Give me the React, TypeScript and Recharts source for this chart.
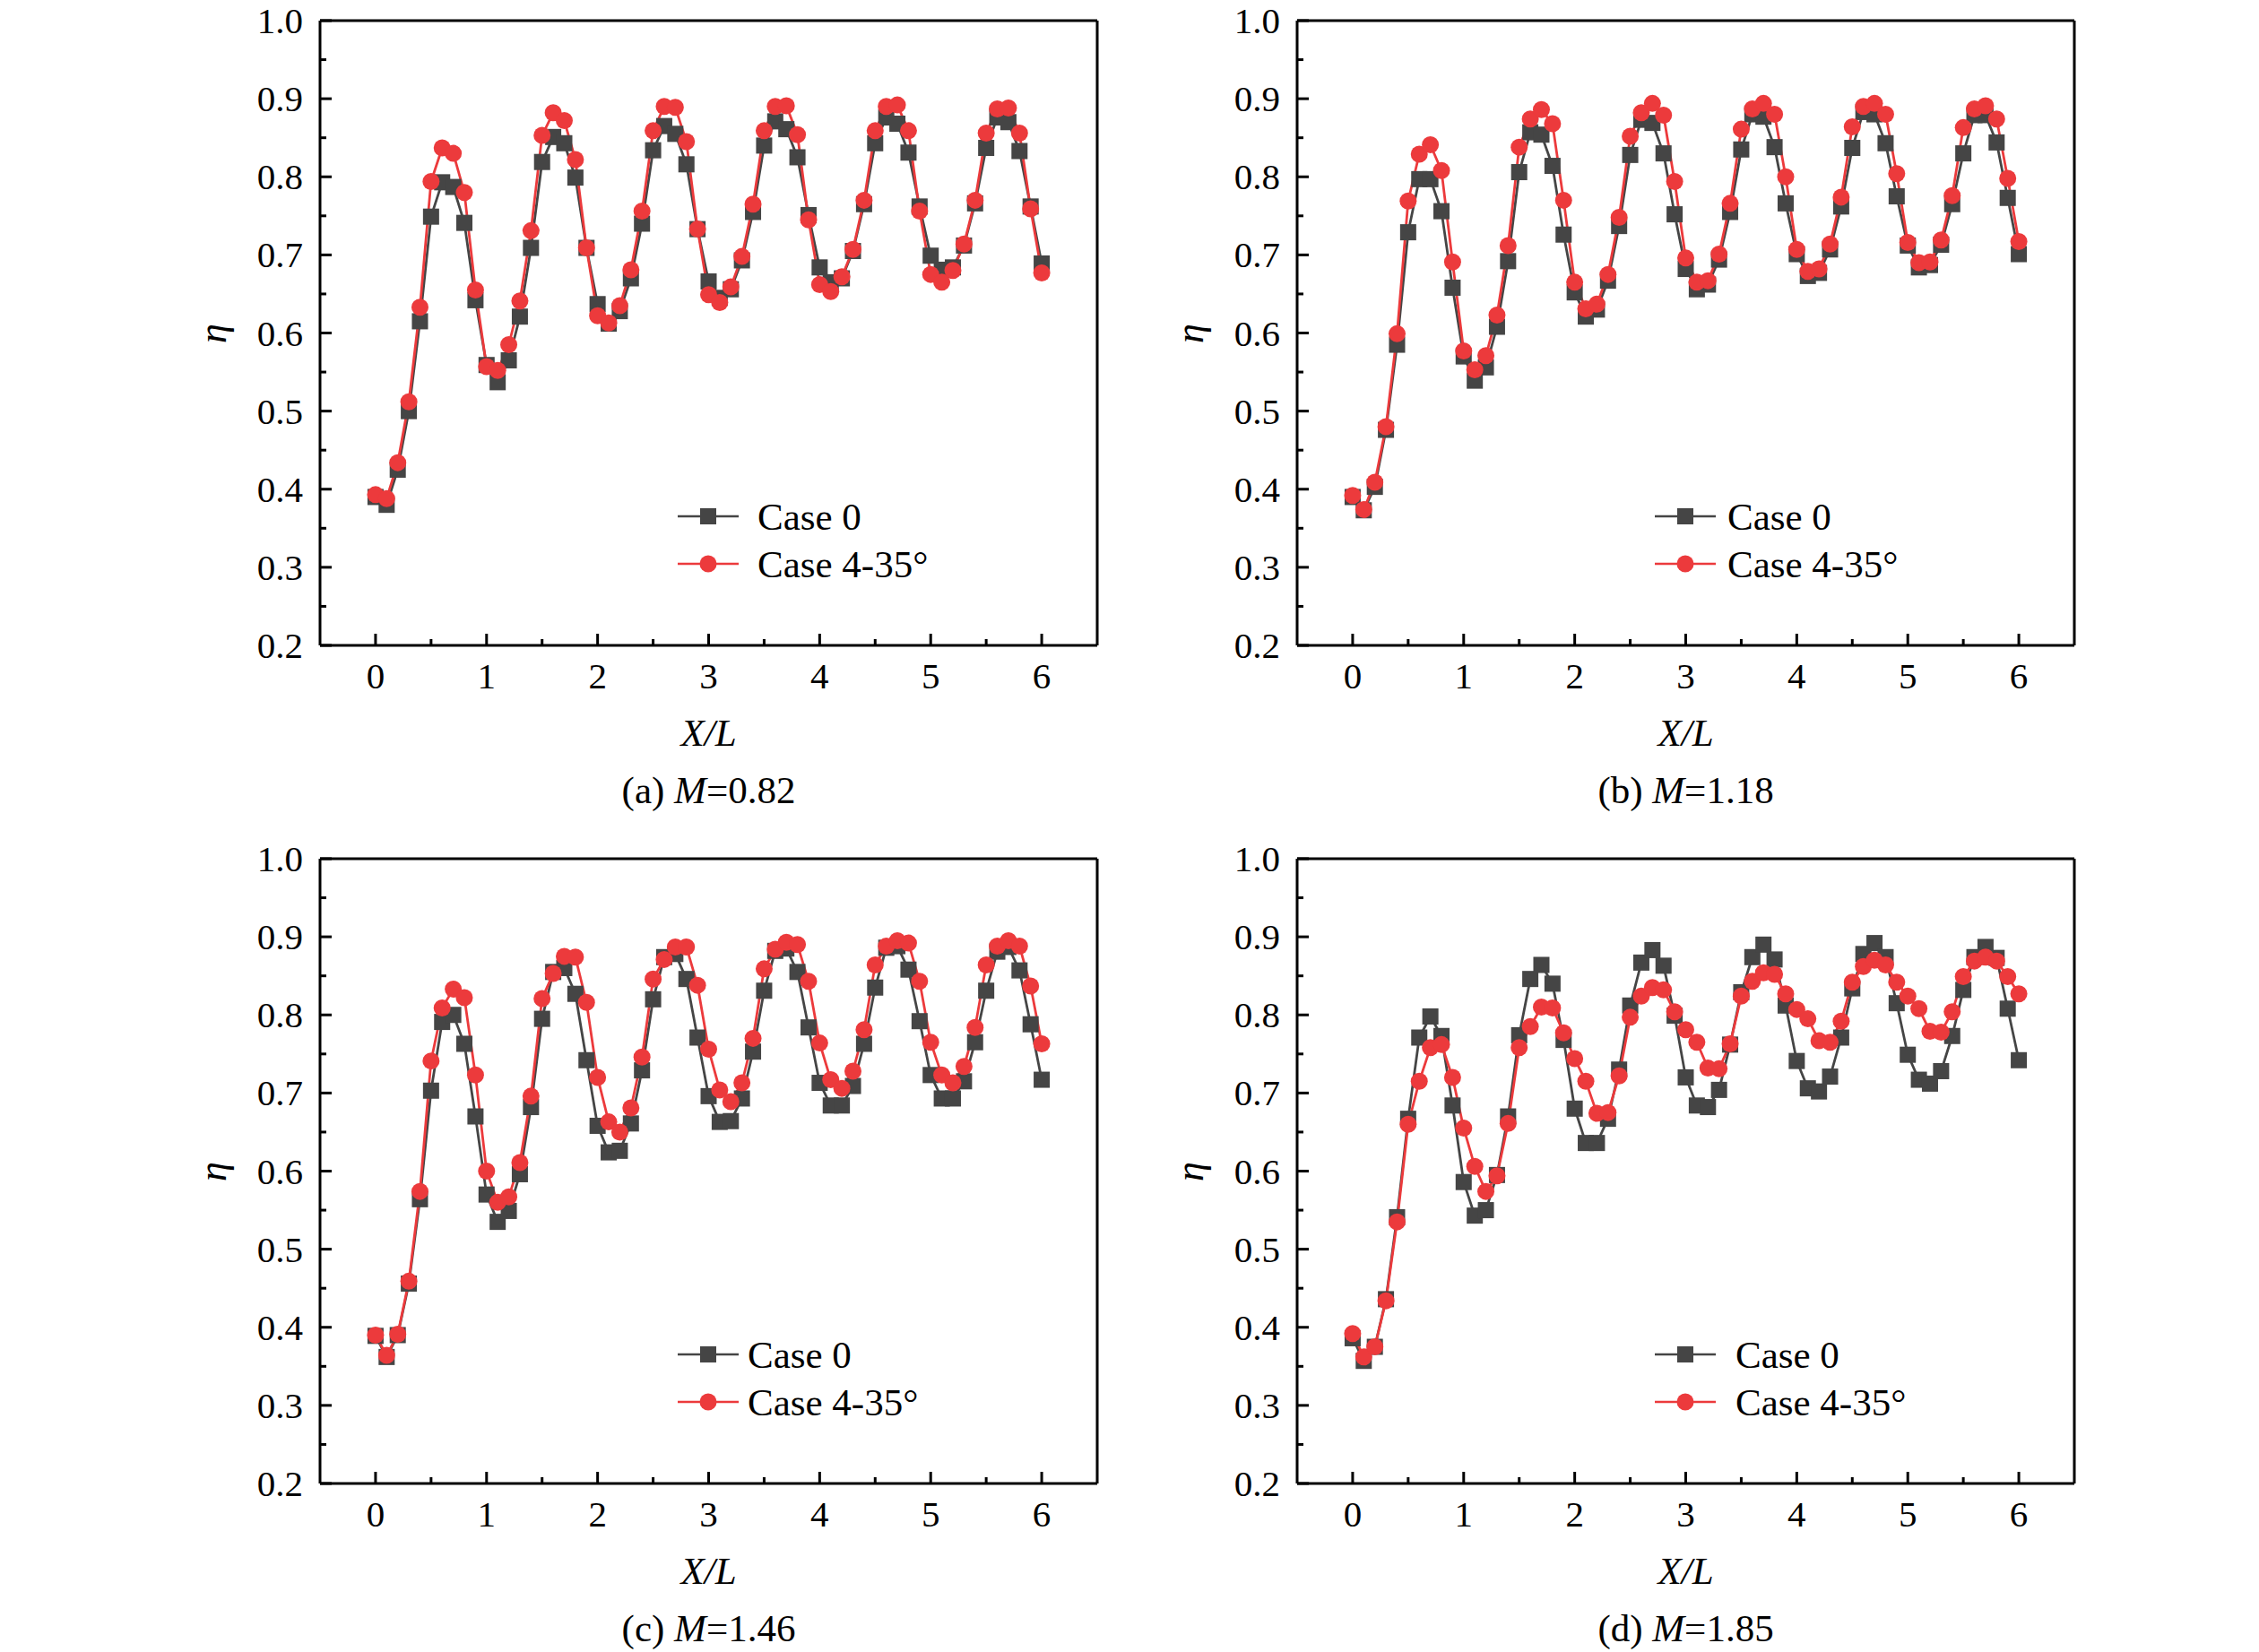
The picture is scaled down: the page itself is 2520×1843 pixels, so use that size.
import React from 'react';
import { LineChart, Line, XAxis, YAxis } from 'recharts';

const X_VALUES = [
  0, 0.1, 0.2, 0.3, 0.4, 0.5, 0.6, 0.7, 0.8, 0.9,
  1, 1.1, 1.2, 1.3, 1.4, 1.5, 1.6, 1.7, 1.8, 1.9,
  2, 2.1, 2.2, 2.3, 2.4, 2.5, 2.6, 2.7, 2.8, 2.9,
  3, 3.1, 3.2, 3.3, 3.4, 3.5, 3.6, 3.7, 3.8, 3.9,
  4, 4.1, 4.2, 4.3, 4.4, 4.5, 4.6, 4.7, 4.8, 4.9,
  5, 5.1, 5.2, 5.3, 5.4, 5.5, 5.6, 5.7, 5.8, 5.9,
  6,
];

const X_TICKS = [0, 0.5, 1, 1.5, 2, 2.5, 3, 3.5, 4, 4.5, 5, 5.5, 6];
const Y_TICKS = [0.2, 0.25, 0.3, 0.35, 0.4, 0.45, 0.5, 0.55, 0.6, 0.65, 0.7, 0.75, 0.8, 0.85, 0.9, 0.95, 1.0];

const SERIES_NAMES = ['Case 0', 'Case 4-35°'];
const PANEL_LETTERS = ['a', 'b', 'c', 'd'];
const PANEL_M = ['0.82', '1.18', '1.46', '1.85'];

// (a) M=0.82
const A_CASE0 = [
  0.39, 0.38, 0.425, 0.5, 0.615, 0.749, 0.793, 0.787, 0.741, 0.642,
  0.559, 0.537, 0.565, 0.621, 0.709, 0.819, 0.851, 0.843, 0.799, 0.709,
  0.637, 0.612, 0.628, 0.67, 0.74, 0.834, 0.865, 0.855, 0.816, 0.733,
  0.666, 0.645, 0.656, 0.693, 0.755, 0.84, 0.871, 0.861, 0.825, 0.751,
  0.684, 0.665, 0.67, 0.705, 0.765, 0.843, 0.876, 0.868, 0.831, 0.762,
  0.699, 0.681, 0.684, 0.712, 0.766, 0.837, 0.876, 0.87, 0.833, 0.762,
  0.689,
];
const A_CASE4 = [
  0.393, 0.388, 0.434, 0.512, 0.633, 0.794, 0.837, 0.83, 0.78, 0.655,
  0.557, 0.552, 0.585, 0.641, 0.731, 0.853, 0.882, 0.872, 0.822, 0.709,
  0.622, 0.613, 0.635, 0.681, 0.756, 0.859, 0.89, 0.889, 0.845, 0.733,
  0.649, 0.639, 0.659, 0.698, 0.765, 0.859, 0.89, 0.891, 0.854, 0.745,
  0.662, 0.653, 0.672, 0.707, 0.77, 0.859, 0.89, 0.892, 0.859, 0.756,
  0.675, 0.665, 0.68, 0.714, 0.77, 0.856, 0.887, 0.888, 0.856, 0.759,
  0.677,
];

// (b) M=1.18
const B_CASE0 = [
  0.39, 0.373, 0.403, 0.476, 0.585, 0.729, 0.797, 0.797, 0.756, 0.658,
  0.57, 0.539, 0.556, 0.608, 0.692, 0.806, 0.857, 0.854, 0.814, 0.726,
  0.652, 0.621, 0.63, 0.667, 0.737, 0.828, 0.873, 0.869, 0.83, 0.752,
  0.682, 0.656, 0.662, 0.694, 0.755, 0.835, 0.88, 0.877, 0.838, 0.766,
  0.701, 0.673, 0.677, 0.707, 0.762, 0.837, 0.883, 0.88, 0.843, 0.775,
  0.712, 0.684, 0.687, 0.713, 0.765, 0.83, 0.879, 0.879, 0.844, 0.773,
  0.701,
];
const B_CASE4 = [
  0.392, 0.374, 0.409, 0.48, 0.599, 0.769, 0.829, 0.841, 0.808, 0.691,
  0.577, 0.553, 0.571, 0.623, 0.712, 0.838, 0.874, 0.886, 0.868, 0.77,
  0.665, 0.631, 0.637, 0.675, 0.748, 0.852, 0.882, 0.894, 0.879, 0.794,
  0.696, 0.665, 0.667, 0.701, 0.766, 0.861, 0.887, 0.894, 0.88, 0.8,
  0.707, 0.679, 0.682, 0.714, 0.774, 0.864, 0.89, 0.894, 0.88, 0.804,
  0.716, 0.69, 0.691, 0.719, 0.776, 0.863, 0.887, 0.891, 0.874, 0.798,
  0.717,
];

// (c) M=1.46
const C_CASE0 = [
  0.389, 0.362, 0.39, 0.456, 0.564, 0.703, 0.791, 0.8, 0.763, 0.67,
  0.57, 0.535, 0.549, 0.596, 0.682, 0.795, 0.855, 0.86, 0.827, 0.742,
  0.658, 0.624, 0.626, 0.661, 0.729, 0.82, 0.874, 0.878, 0.846, 0.771,
  0.696, 0.663, 0.664, 0.693, 0.753, 0.831, 0.882, 0.885, 0.855, 0.784,
  0.713, 0.684, 0.684, 0.709, 0.763, 0.835, 0.886, 0.888, 0.858, 0.792,
  0.723, 0.693, 0.693, 0.715, 0.765, 0.831, 0.881, 0.887, 0.857, 0.788,
  0.717,
];
const C_CASE4 = [
  0.39, 0.364, 0.391, 0.459, 0.574, 0.741, 0.809, 0.833, 0.822, 0.723,
  0.6, 0.56, 0.567, 0.611, 0.696, 0.821, 0.853, 0.875, 0.874, 0.816,
  0.72, 0.663, 0.65, 0.681, 0.746, 0.846, 0.871, 0.887, 0.887, 0.838,
  0.756, 0.704, 0.689, 0.713, 0.77, 0.859, 0.884, 0.893, 0.89, 0.843,
  0.764, 0.717, 0.706, 0.728, 0.781, 0.864, 0.888, 0.895, 0.892, 0.843,
  0.765, 0.723, 0.713, 0.734, 0.784, 0.864, 0.888, 0.895, 0.888, 0.837,
  0.763,
];

// (d) M=1.85
const D_CASE0 = [
  0.386, 0.357, 0.375, 0.436, 0.541, 0.667, 0.771, 0.798, 0.773, 0.684,
  0.586, 0.543, 0.55, 0.595, 0.67, 0.774, 0.846, 0.864, 0.84, 0.768,
  0.68, 0.636, 0.636, 0.667, 0.73, 0.812, 0.867, 0.883, 0.863, 0.799,
  0.72, 0.684, 0.682, 0.704, 0.762, 0.829, 0.874, 0.89, 0.871, 0.812,
  0.741, 0.706, 0.702, 0.721, 0.771, 0.834, 0.878, 0.892, 0.874, 0.815,
  0.749, 0.717, 0.712, 0.728, 0.773, 0.832, 0.874, 0.887, 0.873, 0.808,
  0.742,
];
const D_CASE4 = [
  0.392, 0.362, 0.375, 0.434, 0.535, 0.66, 0.715, 0.758, 0.762, 0.72,
  0.655, 0.606, 0.574, 0.594, 0.661, 0.758, 0.785, 0.81, 0.809, 0.777,
  0.744, 0.715, 0.674, 0.675, 0.722, 0.797, 0.824, 0.835, 0.832, 0.804,
  0.781, 0.765, 0.732, 0.731, 0.763, 0.824, 0.843, 0.854, 0.852, 0.827,
  0.807, 0.795, 0.767, 0.765, 0.792, 0.842, 0.862, 0.87, 0.864, 0.842,
  0.824, 0.808, 0.779, 0.778, 0.804, 0.849, 0.869, 0.874, 0.869, 0.849,
  0.827,
];

const GRAY = '#454545';
const RED = '#EC3A3C';
const FONT = '"Liberation Serif", "Times New Roman", serif';

const PLOT_W = 867;
const PLOT_H = 697;
const ML = 200;
const MT = 30;
const MR = 30;
const MB = 90;
const SQ = 18;
const DOT_R = 9.5;

const isMajor = (v: number, step: number) => Math.abs(v / step - Math.round(v / step)) < 1e-6;

// ticks point into the plot; labels only on major ticks
const XTick = (props: any) => {
  const { x, y, payload } = props;
  const v = payload.value;
  const major = isMajor(v, 1);
  return (
    <g>
      <line x1={x} x2={x} y1={y} y2={y - (major ? 13 : 7)} stroke="#000" strokeWidth={3} />
      {major && (
        <text x={x} y={y + 48} textAnchor="middle" fontFamily={FONT} fontSize={41} fill="#000">
          {v}
        </text>
      )}
    </g>
  );
};

const YTick = (props: any) => {
  const { x, y, payload } = props;
  const v = payload.value;
  const major = isMajor(v, 0.1);
  return (
    <g>
      <line x1={x} x2={x + (major ? 13 : 7)} y1={y} y2={y} stroke="#000" strokeWidth={3} />
      {major && (
        <text x={x - 19} y={y + 14} textAnchor="end" fontFamily={FONT} fontSize={41} fill="#000">
          {v.toFixed(1)}
        </text>
      )}
    </g>
  );
};

const squareDot = (props: any) => {
  const { cx, cy, index } = props;
  if (cx == null || cy == null) return <g key={`sq-${index}`} />;
  return <rect key={`sq-${index}`} x={cx - SQ / 2} y={cy - SQ / 2} width={SQ} height={SQ} fill={GRAY} />;
};

const centered = (cx: number, cy: number, extra: React.CSSProperties = {}): React.CSSProperties => ({
  position: 'absolute',
  left: cx,
  top: cy,
  transform: 'translate(-50%, -50%)',
  whiteSpace: 'nowrap',
  lineHeight: 1,
  fontFamily: FONT,
  color: '#000',
  ...extra,
});

interface PanelProps {
  left: number;
  top: number;
  case0: number[];
  case4: number[];
  letter: string;
  m: string;
  textOffset: number;
}

function LegendRow({ x, y, color, square, label, textOffset }: any) {
  return (
    <div style={{ position: 'absolute', left: x, top: y - 20, height: 40, display: 'flex', alignItems: 'center' }}>
      <svg width={68} height={40} style={{ display: 'block' }}>
        <line x1={0} x2={68} y1={20} y2={20} stroke={color} strokeWidth={2.5} />
        {square ? (
          <rect x={34 - SQ / 2} y={20 - SQ / 2} width={SQ} height={SQ} fill={color} />
        ) : (
          <circle cx={34} cy={20} r={DOT_R} fill={color} />
        )}
      </svg>
      <span style={{ marginLeft: textOffset, fontFamily: FONT, fontSize: 43, lineHeight: 1, whiteSpace: 'nowrap' }}>
        {label}
      </span>
    </div>
  );
}

function Panel({ left, top, case0, case4, letter, m, textOffset }: PanelProps) {
  const data = X_VALUES.map((x, i) => ({ x, case0: case0[i], case4: case4[i] }));
  const cx = left + PLOT_W / 2;
  const bottom = top + PLOT_H;
  const axisLine = { stroke: '#000', strokeWidth: 3 };
  return (
    <>
      <div style={{ position: 'absolute', left: left - ML, top: top - MT }}>
        <LineChart
          width={PLOT_W + ML + MR}
          height={PLOT_H + MT + MB}
          data={data}
          margin={{ top: MT - 1, right: MR - 1, bottom: MB - 1, left: ML - 1 }}
        >
          <XAxis
            dataKey="x"
            type="number"
            domain={[-0.5, 6.5]}
            ticks={X_TICKS}
            interval={0}
            height={1}
            tickSize={0}
            tickMargin={0}
            tickLine={false}
            axisLine={axisLine}
            tick={XTick}
            allowDataOverflow
          />
          <XAxis
            xAxisId="top"
            orientation="top"
            dataKey="x"
            type="number"
            domain={[-0.5, 6.5]}
            height={1}
            tick={false}
            tickLine={false}
            axisLine={axisLine}
          />
          <YAxis
            type="number"
            domain={[0.2, 1.0]}
            ticks={Y_TICKS}
            interval={0}
            width={1}
            tickSize={0}
            tickMargin={0}
            tickLine={false}
            axisLine={axisLine}
            tick={YTick}
            allowDataOverflow
          />
          <YAxis
            yAxisId="right"
            orientation="right"
            type="number"
            domain={[0.2, 1.0]}
            width={1}
            tick={false}
            tickLine={false}
            axisLine={axisLine}
          />
          <Line
            dataKey="case0"
            name={SERIES_NAMES[0]}
            stroke={GRAY}
            strokeWidth={2.8}
            dot={squareDot}
            activeDot={false}
            isAnimationActive={false}
          />
          <Line
            dataKey="case4"
            name={SERIES_NAMES[1]}
            stroke={RED}
            strokeWidth={2.8}
            dot={{ r: DOT_R, fill: RED, stroke: 'none' }}
            activeDot={false}
            isAnimationActive={false}
          />
        </LineChart>
      </div>
      <LegendRow x={left + 399} y={top + 553} color={GRAY} square label={SERIES_NAMES[0]} textOffset={textOffset} />
      <LegendRow x={left + 399} y={top + 606} color={RED} square={false} label={SERIES_NAMES[1]} textOffset={textOffset} />
      <div style={centered(left - 119, top + PLOT_H / 2, { fontSize: 44, fontStyle: 'italic', transform: 'translate(-50%, -50%) rotate(-90deg)' })}>
        η
      </div>
      <div style={centered(cx, bottom + 97, { fontSize: 43, fontStyle: 'italic' })}>X/L</div>
      <div style={centered(cx, bottom + 161, { fontSize: 43 })}>
        ({letter}) <i>M</i>={m}
      </div>
    </>
  );
}

const PANEL_POS = [
  { left: 357, top: 23, textOffset: 21 },
  { left: 1447, top: 23, textOffset: 13 },
  { left: 357, top: 958, textOffset: 10 },
  { left: 1447, top: 958, textOffset: 22 },
];
const PANEL_CASE0 = [A_CASE0, B_CASE0, C_CASE0, D_CASE0];
const PANEL_CASE4 = [A_CASE4, B_CASE4, C_CASE4, D_CASE4];

export default function App() {
  return (
    <div style={{ position: 'absolute', left: 0, top: 0, width: 2520, height: 1843, background: '#fff', overflow: 'hidden' }}>
      {PANEL_POS.map((p, i) => (
        <Panel
          key={PANEL_LETTERS[i]}
          left={p.left}
          top={p.top}
          textOffset={p.textOffset}
          case0={PANEL_CASE0[i]}
          case4={PANEL_CASE4[i]}
          letter={PANEL_LETTERS[i]}
          m={PANEL_M[i]}
        />
      ))}
    </div>
  );
}
